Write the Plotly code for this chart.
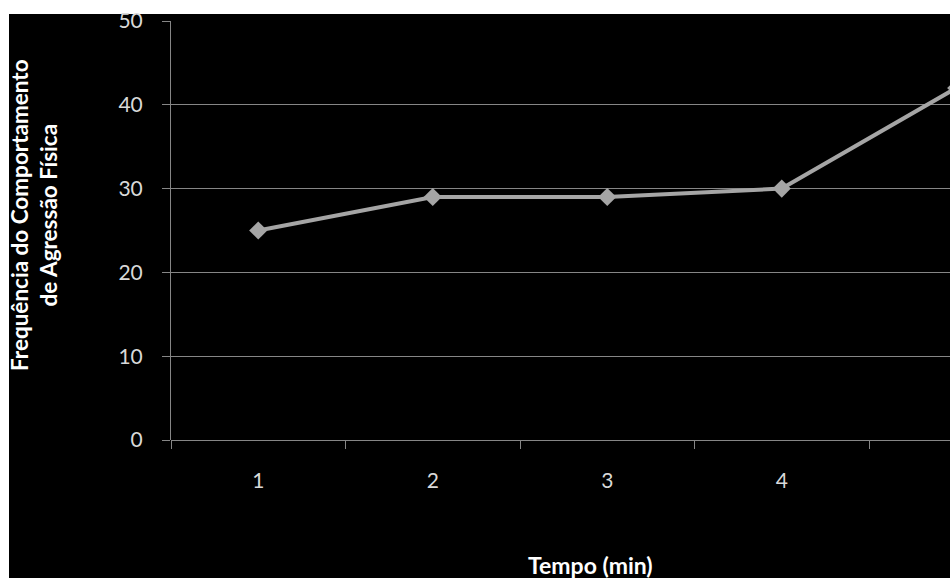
import plotly.graph_objects as go

categories = ["1", "2", "3", "4", "5"]
values = [25, 29, 29, 30, 42]
y_ticks = [0, 10, 20, 30, 40, 50]

W, H = 950, 578
L, R, T, B = 171, 950, 21, 440
pw, ph = R - L, B - T

def px(x):
    return (x - L) / pw

def py(y):
    return (B - y) / ph

xpos = list(range(1, len(categories) + 1))

fig = go.Figure()
fig.add_trace(go.Scatter(
    x=xpos, y=values, mode="lines+markers",
    line=dict(color="#a5a5a5", width=4),
    marker=dict(symbol="diamond", size=14, color="#a5a5a5"),
    hoverinfo="skip", showlegend=False,
))

font = "Lato, Calibri, Carlito, sans-serif"
grid = "#868686"

fig.update_layout(
    width=W, height=H,
    margin=dict(l=L, r=W - R, t=T, b=H - B, pad=0),
    paper_bgcolor="white", plot_bgcolor="black",
    font=dict(family=font, color="#d9d9d9", size=21),
    shapes=[dict(type="rect", xref="paper", yref="paper",
                 x0=px(9), x1=px(960), y0=py(590), y1=py(14),
                 fillcolor="black", line=dict(width=0), layer="below")],
    xaxis=dict(
        range=[0.5, 0.5 + pw / 174.5],
        tickvals=xpos[:4], ticktext=categories[:4],
        ticks="", showgrid=False, zeroline=False,
        showline=False, ticklabelstandoff=26,
        tickfont=dict(size=21, color="#d9d9d9"),
        minor=dict(tickvals=[0.5, 1.5, 2.5, 3.5, 4.5], ticks="outside",
                   ticklen=8, tickwidth=1, tickcolor=grid, showgrid=False),
    ),
    yaxis=dict(
        range=[0, 50], tickvals=y_ticks,
        ticks="outside", ticklen=8, tickwidth=1, tickcolor=grid,
        showgrid=True, gridcolor=grid, gridwidth=1,
        showline=True, linecolor=grid, linewidth=1,
        zeroline=True, zerolinecolor=grid, zerolinewidth=1,
        ticklabelstandoff=15,
        tickfont=dict(size=21, color="#d9d9d9"),
    ),
    annotations=[
        dict(text="<b>Frequência do Comportamento<br>de Agressão Física</b>",
             xref="paper", yref="paper", x=px(34), y=py(215),
             xanchor="center", yanchor="middle", textangle=-90,
             showarrow=False, font=dict(size=22.5, color="white", family=font)),
        dict(text="<b>Tempo (min)</b>",
             xref="paper", yref="paper", x=px(590), y=py(565),
             xanchor="center", yanchor="middle",
             showarrow=False, font=dict(size=23, color="white", family=font)),
    ],
)

fig.write_html("out.html")
